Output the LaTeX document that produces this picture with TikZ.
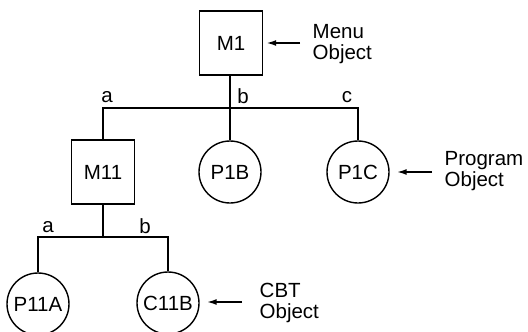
\documentclass[tikz,border=0pt]{standalone}
\usepackage{fontspec}
\setmainfont{Liberation Sans}
\usetikzlibrary{arrows.meta}
\begin{document}
\begin{tikzpicture}[x=1pt,y=-1pt,line width=1.4pt,
  every node/.style={font=\fontsize{20.5}{21}\selectfont},
  obox/.style={draw,rectangle,minimum width=63pt,minimum height=64pt,inner sep=0pt},
  ocirc/.style={draw,circle,minimum size=62pt,inner sep=0pt},
  lbl/.style={inner sep=0pt},
  note/.style={align=left,anchor=west,inner sep=0pt},
  ptr/.style={-{Latex[length=10pt,width=6pt]},line width=1.8pt}]
\useasboundingbox (0,0) rectangle (528,332);
\node[obox] (M1) at (231,43) {M1};
\node[obox] (M11) at (103,172) {M11};
\node[ocirc] (P1B) at (230,172) {P1B};
\node[ocirc] (P1C) at (358,172) {P1C};
\node[ocirc] (P11A) at (38,304) {P11A};
\node[ocirc] (C11B) at (168,303) {C11B};
\coordinate (busL) at (103,108);
\coordinate (busR) at (358,108);
\coordinate (sbL) at (38,237);
\coordinate (sbR) at (168,237);
\draw (M11.north) -- (busL) -- (busR) -- (P1C.north);
\draw (P1B.north |- M1.south) -- (P1B.north |- busL);
\draw (P1B.north) -- (P1B.north |- busL);
\draw (M11.south) -- (M11.south |- sbL);
\draw (P11A.north) -- (sbL) -- (sbR) -- (C11B.north);
\node[lbl] (la) at (107,97) {a};
\node[lbl] (lb) at (243,96) {b};
\node[lbl] (lc) at (347,97) {c};
\node[lbl] (la2) at (48,227) {a};
\node[lbl] (lb2) at (145,226) {b};
\node[note] (menu) at (312,44) {Menu\\Object};
\node[note] (prog) at (444,171) {Program\\Object};
\node[note] (cbt) at (259,303) {CBT\\Object};
\coordinate (m0) at (300,43);
\coordinate (p0) at (432,172);
\coordinate (c0) at (242,302);
\draw[ptr,shorten >=3pt] (m0) -- (M1.east |- m0);
\draw[ptr,shorten >=7pt] (p0) -- (P1C.east);
\draw[ptr,shorten >=7pt] (c0) -- (C11B.east |- c0);
\end{tikzpicture}
\end{document}
